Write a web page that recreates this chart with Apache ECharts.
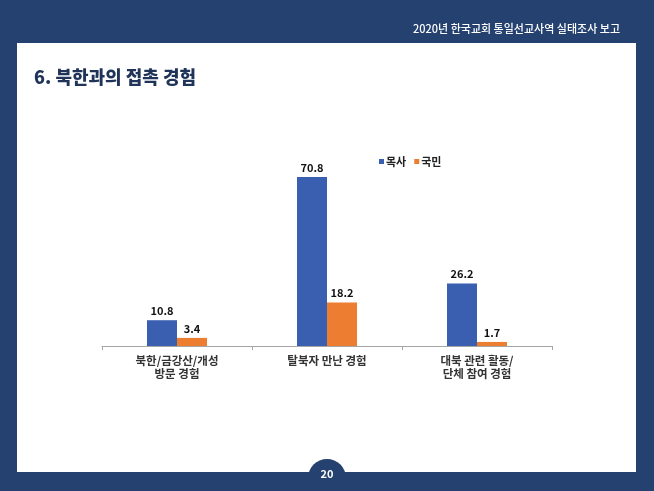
<!DOCTYPE html>
<html>
<head>
<meta charset="utf-8">
<script src="https://cdn.jsdelivr.net/npm/echarts@6/dist/echarts.min.js"></script>
<style>html,body{margin:0;padding:0;background:#fff}#c{width:654px;height:491px}</style>
</head>
<body>
<div id="c"></div>
<script>
const categories = ['북한/금강산/개성\n방문 경험', '탈북자 만난 경험', '대북 관련 활동/\n단체 참여 경험'];
const pastorValues = [10.8, 70.8, 26.2];
const publicValues = [3.4, 18.2, 1.7];
const seriesNames = ['목사', '국민'];

const NAVY = '#24416f';
const FONT = '"Noto Sans CJK KR", "Noto Sans", sans-serif';
const chart = echarts.init(document.getElementById('c'));
const labelStyle = { show: true, position: 'top', distance: 4, fontFamily: FONT, fontWeight: 'bold', fontSize: 11, color: '#111' };
chart.setOption({
  animation: false,
  backgroundColor: NAVY,
  graphic: [
    { type: 'rect', z: -10, shape: { x: 17, y: 43, width: 619, height: 429 }, style: { fill: '#ffffff' } },
    { type: 'circle', z: -5, shape: { cx: 327, cy: 478, r: 19 }, style: { fill: NAVY } },
    { type: 'text', x: 620, y: 29, style: { text: '2020년 한국교회 통일선교사역 실태조사 보고', fill: '#ffffff', font: '500 11px ' + FONT, align: 'right', verticalAlign: 'middle' } },
    { type: 'text', x: 34, y: 77, style: { text: '6. 북한과의 접촉 경험', fill: '#1f3458', font: '900 18px ' + FONT, align: 'left', verticalAlign: 'middle' } },
    { type: 'text', x: 327, y: 474, style: { text: '20', fill: '#ffffff', font: 'bold 11px ' + FONT, align: 'center', verticalAlign: 'middle' } }
  ],
  legend: {
    data: seriesNames,
    left: 374, top: 151,
    itemWidth: 5, itemHeight: 5, itemGap: 8,
    icon: 'rect',
    textStyle: { fontFamily: FONT, fontWeight: 'bold', fontSize: 11, color: '#222', padding: [0, 0, 0, -3] }
  },
  grid: { left: 102, right: 102, top: 155, bottom: 145, containLabel: false },
  xAxis: {
    type: 'category', data: categories,
    axisLine: { lineStyle: { color: '#a6a6a6', width: 1 } },
    axisTick: { show: true, length: 4, lineStyle: { color: '#a6a6a6' } },
    axisLabel: { fontFamily: FONT, fontWeight: 'bold', fontSize: 11.5, color: '#333', lineHeight: 13, margin: 8 }
  },
  yAxis: { type: 'value', min: 0, max: 80, show: false, splitLine: { show: false } },
  series: [
    { name: seriesNames[0], type: 'bar', data: pastorValues, barWidth: 30, barGap: '0%', itemStyle: { color: '#3a5fb0' }, label: labelStyle },
    { name: seriesNames[1], type: 'bar', data: publicValues, barWidth: 30, barGap: '0%', itemStyle: { color: '#ed7d31' }, label: labelStyle }
  ]
});
</script>
</body>
</html>
